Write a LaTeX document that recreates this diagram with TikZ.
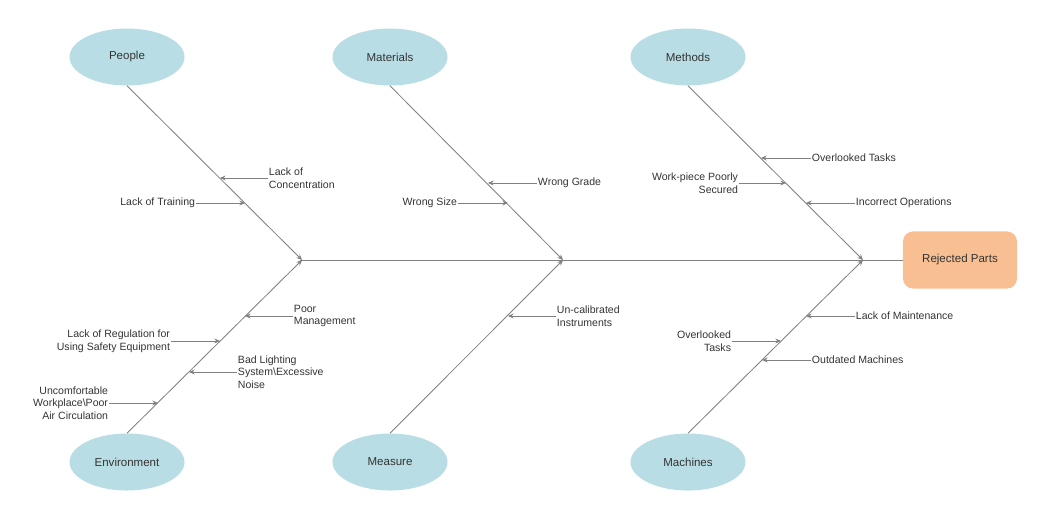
\documentclass[tikz,border=0pt]{standalone}
\usepackage{fontspec}
\setmainfont{Liberation Sans}
\usetikzlibrary{shapes.geometric,arrows.meta,positioning}
\definecolor{bonegray}{HTML}{808080}
\definecolor{catblue}{HTML}{B9DDE5}
\definecolor{effectpeach}{HTML}{F8BF93}
\definecolor{txtgray}{HTML}{333333}

\begin{document}
\begin{tikzpicture}[x=0.025cm,y=-0.025cm,>={Stealth[length=4pt,width=3.5pt]},
  category/.style = {ellipse, fill=catblue, minimum width=2.875cm, minimum height=1.425cm, inner sep=0pt, text=txtgray, font=\fontsize{8.2}{10}\selectfont},
  effect/.style = {rectangle, rounded corners=0.25cm, fill=effectpeach, minimum width=2.85cm, minimum height=1.425cm, text=txtgray, font=\fontsize{8.2}{10}\selectfont},
  cause/.style = {inner sep=0.5pt, text=txtgray, font=\fontsize{7.5}{9}\selectfont},
  bone/.style = {draw=bonegray, line width=0.6pt},]
\useasboundingbox (0,0) rectangle (1053,521);
%Head and spine
\node (effect) at (960,260)[effect] {Rejected Parts};
\coordinate (j1) at (302,260);
\coordinate (j2) at (563,260);
\coordinate (j3) at (863,260);
\draw[bone] (300,260) coordinate (tail) -- (effect.west);
%Categories
\node (people) at (127,57)[category] {People};
\node (materials) at (390,57)[category] {Materials};
\node (methods) at (688,57)[category] {Methods};
\node (environment) at (127,462)[category] {Environment};
\node (measure) at (390,462)[category] {Measure};
\node (machines) at (688,462)[category] {Machines};
\draw[bone,->] (people.south) -- (j1);
\draw[bone,->] (materials.south) -- (j2);
\draw[bone,->] (methods.south) -- (j3);
\draw[bone,->] (environment.north) -- (j1);
\draw[bone,->] (measure.north) -- (j2);
\draw[bone,->] (machines.north) -- (j3);
%People
\node (c1) at (268,178)[cause,anchor=west,align=left] {Lack of\\Concentration};
\node (c2) at (196,203)[cause,anchor=east] {Lack of Training};
\coordinate (b1) at (220,178);
\coordinate (b2) at (245,203);
\draw[bone,->] (c1.west) -- (b1);
\draw[bone,->] (c2.east) -- (b2);
%Materials
\node (c3) at (537,183)[cause,anchor=west] {Wrong Grade};
\node (c4) at (458,203)[cause,anchor=east] {Wrong Size};
\coordinate (b3) at (488,183);
\coordinate (b4) at (508,203);
\draw[bone,->] (c3.west) -- (b3);
\draw[bone,->] (c4.east) -- (b4);
%Methods
\node (c5) at (811,158)[cause,anchor=west] {Overlooked Tasks};
\node (c6) at (739,183)[cause,anchor=east,align=right] {Work-piece Poorly\\Secured};
\node (c7) at (855,203)[cause,anchor=west] {Incorrect Operations};
\coordinate (b5) at (761,158);
\coordinate (b6) at (786,183);
\coordinate (b7) at (806,203);
\draw[bone,->] (c5.west) -- (b5);
\draw[bone,->] (c6.east) -- (b6);
\draw[bone,->] (c7.west) -- (b7);
%Environment
\node (c8) at (293,316)[cause,anchor=west,align=left] {Poor\\Management};
\node (c9) at (171,341)[cause,anchor=east,align=right] {Lack of Regulation for\\Using Safety Equipment};
\node (c10) at (237,372)[cause,anchor=west,align=left] {Bad Lighting\\System\textbackslash Excessive\\Noise};
\node (c11) at (109,403)[cause,anchor=east,align=right] {Uncomfortable\\Workplace\textbackslash Poor\\Air Circulation};
\coordinate (b8) at (245,316);
\coordinate (b9) at (220,341);
\coordinate (b10) at (189,372);
\coordinate (b11) at (158,403);
\draw[bone,->] (c8.west) -- (b8);
\draw[bone,->] (c9.east) -- (b9);
\draw[bone,->] (c10.west) -- (b10);
\draw[bone,->] (c11.east) -- (b11);
%Measure
\node (c12) at (556,316)[cause,anchor=west,align=left] {Un-calibrated\\Instruments};
\coordinate (b12) at (508,316);
\draw[bone,->] (c12.west) -- (b12);
%Machines
\node (c13) at (855,316)[cause,anchor=west] {Lack of Maintenance};
\node (c14) at (732,341)[cause,anchor=east,align=right] {Overlooked\\Tasks};
\node (c15) at (811,360)[cause,anchor=west] {Outdated Machines};
\coordinate (b13) at (806,316);
\coordinate (b14) at (781,341);
\coordinate (b15) at (762,360);
\draw[bone,->] (c13.west) -- (b13);
\draw[bone,->] (c14.east) -- (b14);
\draw[bone,->] (c15.west) -- (b15);
\end{tikzpicture}
\end{document}
